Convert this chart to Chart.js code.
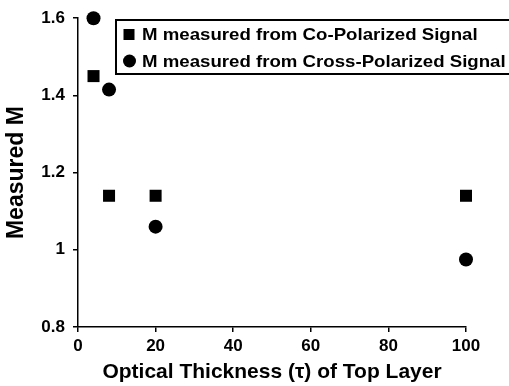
<!DOCTYPE html>
<html>
<head>
<meta charset="utf-8">
<script src="https://cdn.jsdelivr.net/npm/chart.js@4/dist/chart.umd.min.js"></script>
<style>
  html, body { margin: 0; padding: 0; background: #fff; }
  #wrap { width: 509px; height: 386px; position: relative; }
</style>
</head>
<body>
<div id="wrap"><canvas id="chart"></canvas></div>
<script>
// values
var coThickness = [4, 8, 20, 100];
var coM = [1.45, 1.14, 1.14, 1.14];
var crossThickness = [4, 8, 20, 100];
var crossM = [1.6, 1.415, 1.06, 0.975];
var xTicks = [0, 20, 40, 60, 80, 100];
var yTicks = [0.8, 1, 1.2, 1.4, 1.6];
var seriesNames = ["M measured from Co-Polarized Signal", "M measured from Cross-Polarized Signal"];

var FONT = "'Liberation Sans', Arial, sans-serif";

function toPoints(xs, ys) {
  return xs.map(function (x, i) { return { x: x, y: ys[i] }; });
}

// legend box drawn inside the plot, running off the right edge like the original
var boxLegend = {
  id: 'boxLegend',
  afterDraw: function (chart) {
    var c = chart.ctx;
    c.save();
    c.fillStyle = '#fff';
    c.strokeStyle = '#000';
    c.lineWidth = 2;
    c.fillRect(116, 20, 410, 54);
    c.strokeRect(116, 20, 410, 54);
    c.fillStyle = '#000';
    var rows = [34.5, 61];
    chart.data.datasets.forEach(function (ds, i) {
      var y = rows[i];
      if (ds.pointStyle === 'rect') {
        c.fillRect(123.5, y - 5.5, 11, 11);
      } else {
        c.beginPath();
        c.arc(129.5, y, 6.5, 0, Math.PI * 2);
        c.fill();
      }
      c.save();
      c.translate(142, y + 1);
      c.scale(1.13, 1);
      c.font = 'bold 16.5px ' + FONT;
      c.textBaseline = 'middle';
      c.fillText(ds.label, 0, 0);
      c.restore();
    });
    c.restore();
  }
};

var axisLine = { display: true, color: '#000', width: 1.5 };
var tickGrid = { display: true, drawOnChartArea: false, drawTicks: true, tickLength: 5, color: '#000', lineWidth: 1.5 };

new Chart(document.getElementById('chart'), {
  type: 'scatter',
  data: {
    datasets: [{
      label: seriesNames[0],
      data: toPoints(coThickness, coM),
      pointStyle: 'rect',
      pointRadius: 8.5,
      pointHoverRadius: 8.5,
      backgroundColor: '#000',
      borderColor: '#000',
      borderWidth: 0,
      clip: false
    }, {
      label: seriesNames[1],
      data: toPoints(crossThickness, crossM),
      pointStyle: 'circle',
      pointRadius: 7,
      pointHoverRadius: 7,
      backgroundColor: '#000',
      borderColor: '#000',
      borderWidth: 0,
      clip: false
    }]
  },
  options: {
    responsive: true,
    maintainAspectRatio: false,
    animation: false,
    layout: { padding: { top: 17, right: 43, bottom: 1, left: 0 } },
    plugins: {
      legend: { display: false },
      tooltip: { enabled: false }
    },
    scales: {
      x: {
        type: 'linear',
        min: 0,
        max: 100,
        afterBuildTicks: function (s) { s.ticks = xTicks.map(function (v) { return { value: v }; }); },
        ticks: { color: '#000', font: { family: FONT, size: 17, weight: 'bold' }, padding: 4, maxRotation: 0 },
        grid: tickGrid,
        border: axisLine,
        title: { display: true, text: 'Optical Thickness (τ) of Top Layer', color: '#000', font: { family: FONT, size: 21, weight: 'bold' }, padding: { top: 0, bottom: 0 } },
        afterFit: function (s) { s.height = 58; }
      },
      y: {
        type: 'linear',
        min: 0.8,
        max: 1.6,
        afterBuildTicks: function (s) { s.ticks = yTicks.map(function (v) { return { value: v }; }); },
        ticks: {
          color: '#000', font: { family: FONT, size: 17, weight: 'bold' }, padding: 8,
          callback: function (v) { return String(Math.round(v * 10) / 10); }
        },
        grid: tickGrid,
        border: axisLine,
        title: { display: true, text: 'Measured M', color: '#000', font: { family: FONT, size: 23, weight: 'bold' }, padding: { top: 3, bottom: 0 } },
        afterFit: function (s) { s.width = 78; }
      }
    }
  },
  plugins: [boxLegend]
});
</script>
</body>
</html>
